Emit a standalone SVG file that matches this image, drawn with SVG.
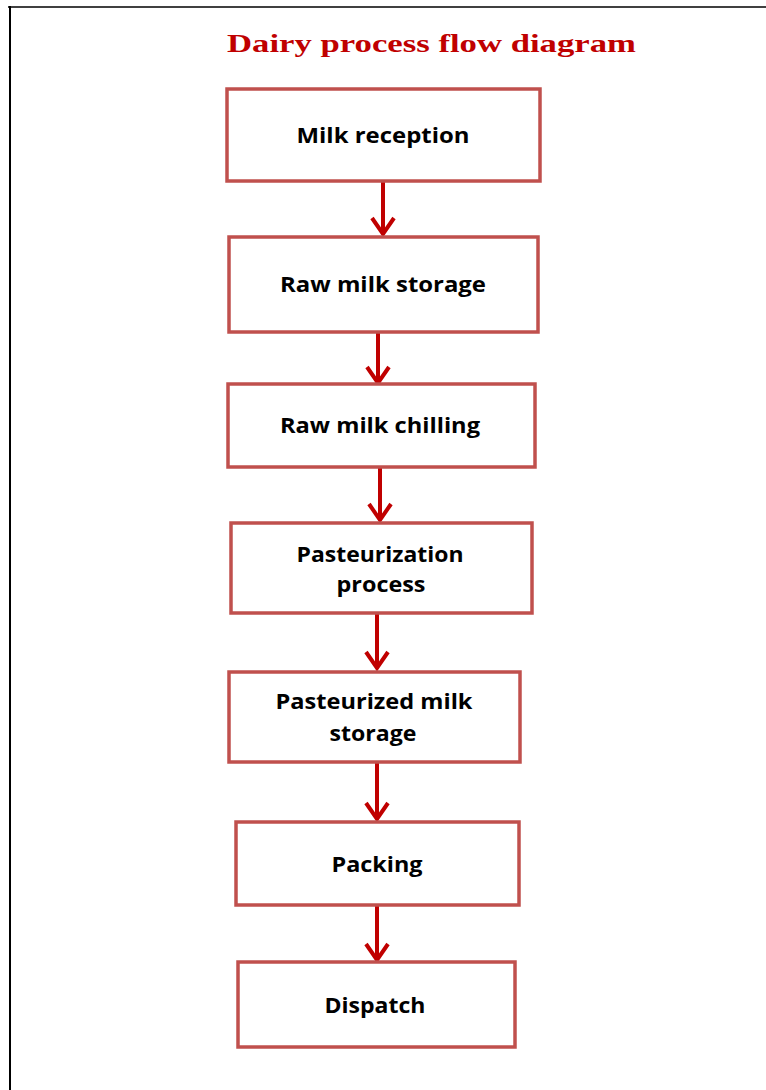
<svg xmlns="http://www.w3.org/2000/svg" width="766" height="1090" viewBox="0 0 766 1090">
<style>
.box{fill:#fff;stroke:#C0504D;stroke-width:3.5}
.lbl{font-family:"Open Sans","DejaVu Sans",sans-serif;font-weight:700;font-size:21px;fill:#000;text-anchor:middle}
.conn{fill:none;stroke:#C00000;stroke-width:4;stroke-linejoin:miter}
.title{font-family:"Liberation Serif","Times New Roman",serif;font-weight:700;font-size:25px;fill:#C00000}
</style>
<rect width="766" height="1090" fill="#fff"/>
<g id="border">
<line x1="8" y1="7" x2="766" y2="7" stroke="#404040" stroke-width="2"/>
<line x1="10" y1="6" x2="10" y2="1090" stroke="#000" stroke-width="2"/>
</g>
<text id="title" class="title" x="227" y="52" textLength="409" lengthAdjust="spacingAndGlyphs">Dairy process flow diagram</text>
<g id="connectors">
<path class="conn" d="M383 182V234M372 218L383 234L394 218"/>
<path class="conn" d="M378 332V383M367 367L378 383L389 367"/>
<path class="conn" d="M380 467V520M369 504L380 520L391 504"/>
<path class="conn" d="M377 613V668M366 652L377 668L388 652"/>
<path class="conn" d="M377 762V819M366 803L377 819L388 803"/>
<path class="conn" d="M377 905V960M366 944L377 960L388 944"/>
</g>
<g id="n1"><rect class="box" x="227" y="89" width="313" height="92"/><text class="lbl" x="383" y="143" textLength="173" lengthAdjust="spacingAndGlyphs">Milk reception</text></g>
<g id="n2"><rect class="box" x="229" y="237" width="309" height="95"/><text class="lbl" x="383" y="292" textLength="206" lengthAdjust="spacingAndGlyphs">Raw milk storage</text></g>
<g id="n3"><rect class="box" x="228" y="384" width="307" height="83"/><text class="lbl" x="380" y="433" textLength="200" lengthAdjust="spacingAndGlyphs">Raw milk chilling</text></g>
<g id="n4"><rect class="box" x="231" y="523" width="301" height="90"/><text class="lbl" x="380" y="562" textLength="167" lengthAdjust="spacingAndGlyphs">Pasteurization</text><text class="lbl" x="381" y="592" textLength="89" lengthAdjust="spacingAndGlyphs">process</text></g>
<g id="n5"><rect class="box" x="229" y="672" width="291" height="90"/><text class="lbl" x="374" y="709" textLength="197" lengthAdjust="spacingAndGlyphs">Pasteurized  milk</text><text class="lbl" x="373" y="741" textLength="87" lengthAdjust="spacingAndGlyphs">storage</text></g>
<g id="n6"><rect class="box" x="236" y="822" width="283" height="83"/><text class="lbl" x="377" y="872" textLength="91" lengthAdjust="spacingAndGlyphs">Packing</text></g>
<g id="n7"><rect class="box" x="238" y="962" width="277" height="85"/><text class="lbl" x="375" y="1013" textLength="101" lengthAdjust="spacingAndGlyphs">Dispatch</text></g>
</svg>
